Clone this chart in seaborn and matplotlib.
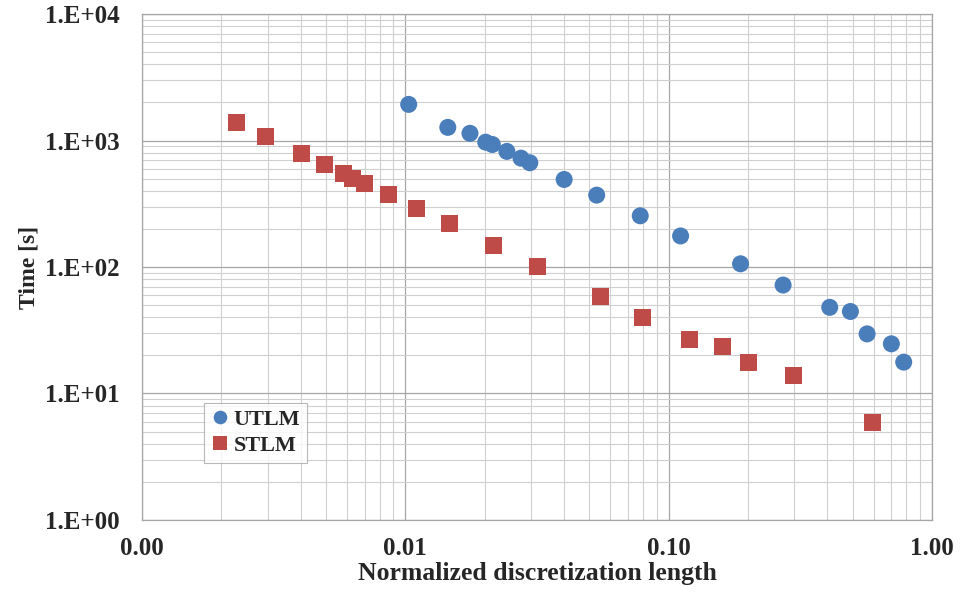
import numpy as np
import pandas as pd
import matplotlib
matplotlib.use("Agg")
import matplotlib.pyplot as plt
import matplotlib.ticker as mticker
import seaborn as sns

# Values
utlm_x = [0.0103, 0.0145, 0.0176, 0.0202, 0.0214, 0.0243, 0.0275, 0.0297, 0.0401,
          0.0533, 0.078, 0.111, 0.1875, 0.272, 0.409, 0.49, 0.567, 0.701, 0.781]
utlm_y = [1930, 1270, 1140, 970, 930, 820, 725, 667, 492,
          370, 254, 176, 106, 72, 48, 44.5, 29.6, 24.7, 17.7]
stlm_x = [0.00229, 0.00295, 0.00404, 0.00493, 0.00582, 0.00629, 0.00699, 0.00862, 0.01104,
          0.01466, 0.0216, 0.0318, 0.0553, 0.0793, 0.1196, 0.1596, 0.2004, 0.299, 0.597]
stlm_y = [1396, 1075, 789, 650, 545, 503, 455, 372, 290,
          219, 148, 101, 58.5, 39.6, 26.7, 23.6, 17.7, 13.9, 5.93]

series_names = ["UTLM", "STLM"]
x_ticks = [0.001, 0.01, 0.1, 1.0]
y_ticks = [1, 10, 100, 1000, 10000]

df = pd.concat([
    pd.DataFrame({"x": utlm_x, "y": utlm_y, "series": "UTLM"}),
    pd.DataFrame({"x": stlm_x, "y": stlm_y, "series": "STLM"}),
])

sns.set_style("white")
plt.rcParams["font.family"] = ["Liberation Serif", "DejaVu Serif"]
plt.rcParams["font.weight"] = "bold"

fig = plt.figure(figsize=(9.62, 5.94), dpi=100)
ax = fig.add_axes([0.1476, 0.1246, 0.8212, 0.8518])

sns.scatterplot(data=df, x="x", y="y", hue="series", style="series",
                hue_order=series_names, style_order=series_names,
                palette={"UTLM": "#4A7EBB", "STLM": "#BE4B48"},
                markers={"UTLM": "o", "STLM": "s"},
                s=150, linewidth=0, ax=ax, zorder=3)

ax.set_xscale("log")
ax.set_yscale("log")
ax.set_xlim(0.001, 1.0)
ax.set_ylim(1, 10000)

ax.set_xticks(x_ticks)
ax.set_yticks(y_ticks)
ax.xaxis.set_major_formatter(mticker.FuncFormatter(lambda v, p: f"{v:.2f}"))
ax.yaxis.set_major_formatter(
    mticker.FuncFormatter(lambda v, p: f"1.E+{int(round(np.log10(v))):02d}"))
ax.xaxis.set_minor_locator(mticker.LogLocator(base=10, subs=np.arange(2, 10)))
ax.yaxis.set_minor_locator(mticker.LogLocator(base=10, subs=np.arange(2, 10)))
ax.xaxis.set_minor_formatter(mticker.NullFormatter())
ax.yaxis.set_minor_formatter(mticker.NullFormatter())

ax.grid(which="major", color="#a6a6a6", linewidth=0.9)
ax.grid(which="minor", color="#d0d0d0", linewidth=0.8)
ax.set_axisbelow(True)

ax.tick_params(axis="x", which="major", length=5, color="#a6a6a6", pad=7,
               labelsize=18)
ax.tick_params(axis="y", which="major", length=0, pad=16, labelsize=18)
ax.tick_params(which="minor", length=0)
for lab in ax.get_xticklabels() + ax.get_yticklabels():
    lab.set_fontweight("bold")

for side in ["left", "bottom", "top", "right"]:
    ax.spines[side].set_color("#a6a6a6")
    ax.spines[side].set_linewidth(0.9)

ax.set_xlabel("Normalized discretization length", fontsize=18.5,
              fontweight="bold", labelpad=2)
ax.set_ylabel("Time [s]", fontsize=17, fontweight="bold", labelpad=4)

leg = ax.legend(loc="lower left", bbox_to_anchor=(0.078, 0.113), frameon=True,
                fancybox=False, edgecolor="#a6a6a6", fontsize=16,
                handletextpad=0.15, borderpad=0.3, labelspacing=0.25,
                handlelength=0.9, borderaxespad=0, markerscale=0.8)
leg.get_frame().set_linewidth(0.8)
for t in leg.get_texts():
    t.set_fontweight("bold")

fig.savefig("out.png", dpi=100)
